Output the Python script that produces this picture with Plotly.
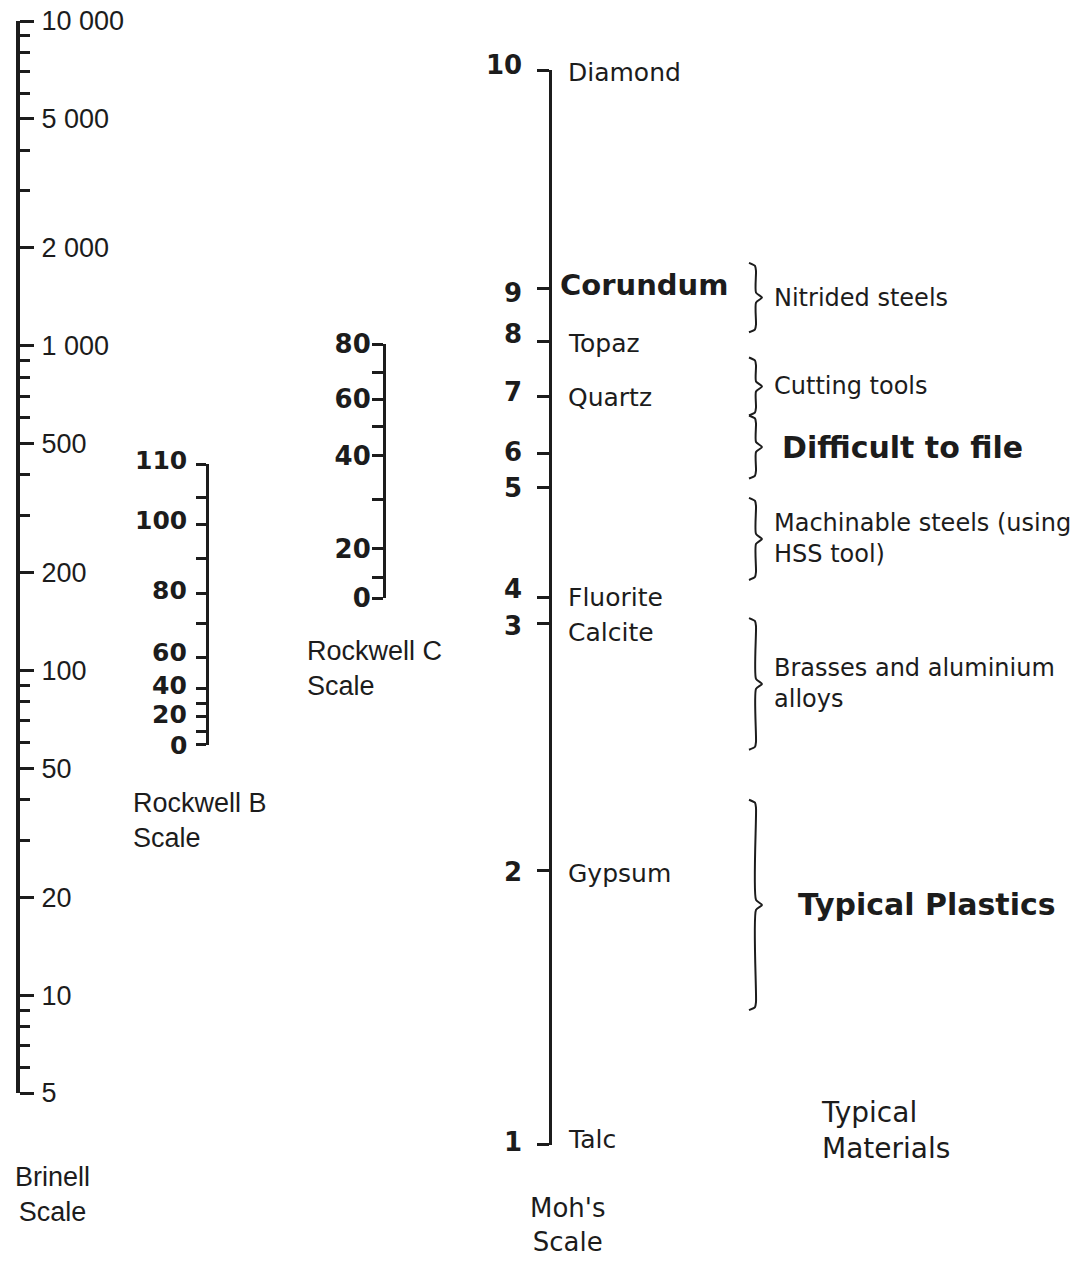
import math
import plotly.graph_objects as go

W, H = 1087, 1261
INK = "#1c1c1c"

# ---------------- data ----------------
# Brinell scale (log)
brinell_major = [10000, 5000, 2000, 1000, 500, 200, 100, 50, 20, 10, 5]
brinell_labels = ["10 000", "5 000", "2 000", "1 000", "500", "200", "100", "50", "20", "10", "5"]
brinell_minor = [9000, 8000, 7000, 6000, 4000, 3000, 900, 800, 700, 600, 400, 300,
                 90, 80, 70, 60, 40, 30, 9, 8, 7, 6]

# Rockwell B ticks and their Brinell equivalents
rockwell_b = [110, 105, 100, 90, 80, 70, 60, 40, 30, 20, 10, 0]
rockwell_b_hb = [432, 342, 281, 222, 173, 140, 110, 88, 79, 72, 65, 59]
rockwell_b_labelled = [110, 100, 80, 60, 40, 20, 0]

# Rockwell C ticks and their Brinell equivalents
rockwell_c = [80, 70, 60, 50, 40, 30, 20, 10, 0]
rockwell_c_hb = [1012, 830, 685, 566, 458, 335, 237, 194, 167]
rockwell_c_labelled = [80, 60, 40, 20, 0]

# Moh's scale and Brinell equivalents
mohs = [10, 9, 8, 7, 6, 5, 4, 3, 2, 1]
mohs_hb = [7065, 1506, 1027, 696, 467, 365, 168, 140, 24.3, 3.46]
minerals = ["Diamond", "Corundum", "Topaz", "Quartz", "", "", "Fluorite", "Calcite", "Gypsum", "Talc"]

# Typical materials: Brinell ranges
materials = ["Nitrided steels", "Cutting tools", "Difficult to file",
             "Machinable steels (using<br>HSS tool)", "Brasses and aluminium<br>alloys",
             "Typical Plastics"]
material_hb_high = [1800, 920, 610, 340, 145, 40]
material_hb_low = [1100, 610, 390, 190, 57, 9]
material_bold = [False, False, True, False, False, True]

# ---------------- geometry / style ----------------
TOP_PX, BOT_PX = 21, 1093          # rows of Brinell 10000 and 5
K = (BOT_PX - TOP_PX) / (4 - math.log10(5))   # pixels per decade

# small vertical nudges of labels relative to their ticks (pixels, + = up)
rb_label_nudge = {110: 4, 100: 4, 80: 3, 60: 5, 40: 3, 20: 2, 0: -1}
mohs_label_nudge = {10: 5, 9: -5, 8: 8, 7: 5, 6: 1, 5: 0, 4: 8, 3: -3, 2: -2, 1: 3}
mineral_nudge = {"Diamond": -2, "Corundum": 3, "Topaz": -2, "Quartz": -1,
                 "Fluorite": 0, "Calcite": -9, "Gypsum": -3, "Talc": 5}


def paper_y(hb):
    py = TOP_PX + (4 - math.log10(hb)) * K
    return 1 - py / H


def px(x):
    return x / W


def py_(y):
    return 1 - y / H


EPS = 1e-7


def scale_axis(vals_hb, xpos, side, ticklen, standoff, tickvals, ticktext, font, linewidth=3):
    lo, hi = min(vals_hb), max(vals_hb)
    return dict(
        type="log",
        domain=[paper_y(lo), paper_y(hi)],
        range=[math.log10(lo) - EPS, math.log10(hi) + EPS],
        anchor="free", position=px(xpos), side=side,
        showline=True, linecolor=INK, linewidth=linewidth,
        ticks="outside", ticklen=ticklen, tickwidth=2.5, tickcolor=INK,
        tickmode="array", tickvals=tickvals, ticktext=ticktext,
        tickfont=font, ticklabelstandoff=standoff, ticklabeloverflow="allow",
        showgrid=False, zeroline=False, fixedrange=True, automargin=False,
    )


fig = go.Figure()

# invisible carrier traces so every scale axis gets a subplot
carriers = [("y", brinell_major, 18), ("y2", rockwell_b_hb, 207),
            ("y3", rockwell_c_hb, 384), ("y4", mohs_hb, 550)]
for ax, vals, xp in carriers:
    fig.add_trace(go.Scatter(x=[xp] * len(vals), y=vals, xaxis="x", yaxis=ax,
                             mode="markers", marker=dict(size=1, opacity=0),
                             hoverinfo="skip", showlegend=False))

# braces for typical materials
f = 10 ** (1 / K)
BX = 756
for hi, lo in zip(material_hb_high, material_hb_low):
    mid = math.sqrt(hi * lo)
    xs = [BX - 7, BX - 1, BX, BX, BX + 6, BX, BX, BX - 1, BX - 7]
    ys = [hi, hi / f ** 3, hi / f ** 8, mid * f ** 5, mid, mid / f ** 5, lo * f ** 8, lo * f ** 3, lo]
    fig.add_trace(go.Scatter(x=xs, y=ys, xaxis="x", yaxis="y", mode="lines",
                             line=dict(color=INK, width=2, shape="spline", smoothing=0.6),
                             hoverinfo="skip", showlegend=False))

num_font = dict(family="DejaVu Sans", size=26, color=INK, weight="bold")

layout = dict(
    width=W, height=H, autosize=False,
    margin=dict(l=0, r=0, t=0, b=0, pad=0, autoexpand=False),
    paper_bgcolor="white", plot_bgcolor="rgba(0,0,0,0)",
    showlegend=False,
    xaxis=dict(domain=[0, 1], range=[0, W], visible=False, fixedrange=True,
               automargin=False),
)

brinell_axis = scale_axis([5, 10000], 18, "right", 14, 2, brinell_major, brinell_labels,
                          dict(family="Liberation Sans", size=27, color=INK), linewidth=4)
brinell_axis["range"] = [math.log10(5) - EPS, 4 + EPS]
brinell_axis["minor"] = dict(tickmode="array", tickvals=brinell_minor, ticks="outside",
                             ticklen=10, tickwidth=2.5, tickcolor=INK, showgrid=False)
layout["yaxis"] = brinell_axis

# Rockwell B and Moh's: ticks from the axis, labels as annotations (individually nudged)
layout["yaxis2"] = scale_axis(rockwell_b_hb, 207, "left", 10, 8, rockwell_b_hb,
                              [""] * len(rockwell_b), num_font)
layout["yaxis3"] = scale_axis(rockwell_c_hb, 384, "left", 11, -4, rockwell_c_hb,
                              [str(v) if v in rockwell_c_labelled else "" for v in rockwell_c],
                              num_font)
layout["yaxis4"] = scale_axis(mohs_hb, 550, "left", 12, 14, mohs_hb,
                              [""] * len(mohs), num_font)

fig.update_layout(**layout)

annotations = []
# Rockwell B labels
for v, hb in zip(rockwell_b, rockwell_b_hb):
    if v not in rockwell_b_labelled:
        continue
    annotations.append(dict(
        text=str(v), xref="paper", x=px(189), yref="y2", y=math.log10(hb),
        yshift=rb_label_nudge.get(v, 0), xanchor="right", yanchor="middle",
        showarrow=False, font=dict(num_font, size=25)))

# Moh's numbers
for v, hb in zip(mohs, mohs_hb):
    annotations.append(dict(
        text=str(v), xref="paper", x=px(524), yref="y4", y=math.log10(hb),
        yshift=mohs_label_nudge.get(v, 0), xanchor="right", yanchor="middle",
        showarrow=False, font=num_font))

# mineral names
for name, hb in zip(minerals, mohs_hb):
    if not name:
        continue
    bold = name == "Corundum"
    annotations.append(dict(
        text=name, xref="paper", x=px(558 if bold else 566), yref="y4", y=math.log10(hb),
        yshift=mineral_nudge.get(name, 0),
        xanchor="left", yanchor="middle", showarrow=False,
        font=dict(family="DejaVu Sans", size=29 if bold else 25, color=INK,
                  weight="bold" if bold else "normal")))

# material labels
for name, hi, lo, bold in zip(materials, material_hb_high, material_hb_low, material_bold):
    mid = math.sqrt(hi * lo)
    xl = 772
    if name == "Difficult to file":
        xl = 780
    elif name == "Typical Plastics":
        xl = 796
    annotations.append(dict(
        text=name, xref="paper", x=px(xl), yref="y", y=math.log10(mid),
        xanchor="left", yanchor="middle", align="left", showarrow=False,
        font=dict(family="DejaVu Sans", size=30 if bold else 24, color=INK,
                  weight="bold" if bold else "normal")))

# scale titles
titles = [
    ("Brinell<br>Scale", 52, 1194, "center", dict(family="Liberation Sans", size=27)),
    ("Rockwell B<br>Scale", 131, 820, "left", dict(family="Liberation Sans", size=27)),
    ("Rockwell C<br>Scale", 305, 668, "left", dict(family="Liberation Sans", size=27)),
    ("Moh's<br>Scale", 568, 1225, "center", dict(family="DejaVu Sans", size=26)),
    ("Typical<br>Materials", 819, 1130, "left", dict(family="DejaVu Sans", size=28)),
]
for text, x, y, anchor, font in titles:
    font = dict(font, color=INK)
    annotations.append(dict(text=text, xref="paper", yref="paper", x=px(x), y=py_(y),
                            xanchor=anchor, yanchor="middle", align=anchor,
                            showarrow=False, font=font))

fig.update_layout(annotations=annotations)

# the page body's default 8 px margin would push the figure off the window
fig.write_html("out.html", config={"displayModeBar": False},
               post_script="document.body.style.margin='0';")
